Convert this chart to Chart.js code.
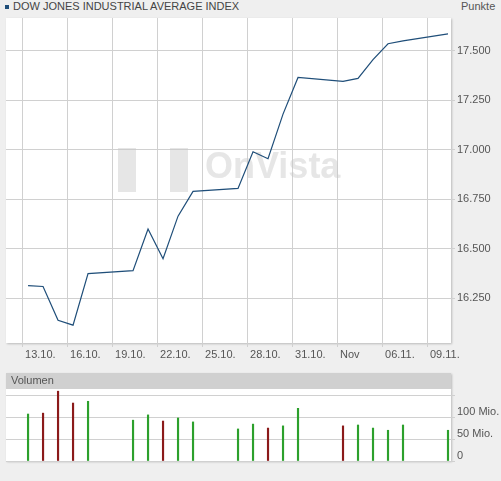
<!DOCTYPE html>
<html><head><meta charset="utf-8">
<script src="https://cdn.jsdelivr.net/npm/chart.js@4"></script>
<style>
body{margin:0;background:#efefef;width:501px;height:481px;position:relative;overflow:hidden;font-family:Arial,"Liberation Sans",sans-serif}
#c1{position:absolute;left:0;top:0}
#c2{position:absolute;left:0;top:360px}
#title{position:absolute;left:5px;top:0px;font-size:11px;color:#444}
#title span{display:inline-block;width:4px;height:4px;background:#1f4e79;margin-right:4px;vertical-align:middle}
#punkte{position:absolute;left:461px;top:0px;font-size:11px;color:#555}
#volh{position:absolute;left:6px;top:373px;width:445px;height:16px;background:#d0d0d0;font-size:11px;color:#555;box-shadow:1px 1px 2px #bbb}
#volh div{position:absolute;left:5px;top:1px}
#mainbox{position:absolute;left:6px;top:18px;width:445px;height:325px;box-shadow:1px 1px 2px #bbb}
#volbox{position:absolute;left:6px;top:389px;width:445px;height:72px;box-shadow:1px 1px 2px #bbb}
</style></head><body>
<div id="mainbox"></div><div id="volbox"></div>
<div id="title"><span></span>DOW JONES INDUSTRIAL AVERAGE INDEX</div>
<div id="punkte">Punkte</div>
<canvas id="c1" width="501" height="365"></canvas>
<div id="volh"><div>Volumen</div></div>
<canvas id="c2" width="501" height="110"></canvas>
<script>
// day offsets from 13.10.
const days = [0,1,2,3,4, 7,8,9,10,11, 14,15,16,17,18, 21,22,23,24,25, 28];
const closeVals = [16315,16310,16140,16115,16375, 16390,16600,16450,16665,16790, 16805,16990,16955,17180,17365, 17345,17360,17455,17535,17550, 17585];
const volumes = [107,109,159,132,136, 93,105,91,98,89, 73,84,75,80,120, 80,82,75,70,82, 70];
const volUp = [1,0,0,0,1, 1,1,0,1,1, 1,1,0,1,1, 0,1,1,1,1, 1];
const xTickLabels = ['13.10.','16.10.','19.10.','22.10.','25.10.','28.10.','31.10.','Nov','06.11.','09.11.'];
const yTicks = [16250,16500,16750,17000,17250,17500];
const volTicks = [0,50,100,150];
const volTickLabels = ['0','50 Mio.','100 Mio.',''];

const XMIN=-1.47, XMAX=28.2;
const white={id:'w',beforeDraw(c){const a=c.chartArea,x=c.ctx;x.save();x.fillStyle='#fff';x.fillRect(a.left,a.top,a.right-a.left,a.bottom-a.top);x.restore();}};
const wm={id:'wm',beforeDatasetsDraw(c){const x=c.ctx;x.save();x.fillStyle='rgba(200,200,200,0.45)';x.font='bold 36px Arial';x.fillText('OnVista',205,178);x.fillRect(118,148,18,44);x.fillRect(170,148,18,44);x.restore();}};
const lf={family:'Arial, Liberation Sans',size:11};
new Chart(document.getElementById('c1'),{
 type:'line',
 data:{datasets:[{data:days.map((d,i)=>({x:d,y:closeVals[i]})),borderColor:'#1f4e79',borderWidth:1.2,pointRadius:0,tension:0}]},
 options:{responsive:false,animation:false,events:[],
  layout:{padding:{left:6,top:18}},
  plugins:{legend:{display:false},tooltip:{enabled:false}},
  scales:{
   x:{type:'linear',min:XMIN,max:XMAX,
     afterBuildTicks(s){s.ticks=xTickLabels.map((l,i)=>({value:-0.4+3*i}));},
     afterFit(s){s.height=22;},
     grid:{color:'#d0d0d0',tickLength:4,drawTicks:true},border:{display:false},
     ticks:{align:'start',labelOffset:3,padding:1,color:'#555',font:lf,maxRotation:0,autoSkip:false,callback:(v,i)=>xTickLabels[i]}},
   y:{position:'right',min:16025,max:17665,
     afterBuildTicks(s){s.ticks=yTicks.map(v=>({value:v}));},
     afterFit(s){s.width=50;},
     grid:{color:'#d0d0d0',tickLength:4},border:{display:false},
     ticks:{padding:2,color:'#555',font:lf,callback:v=>v.toLocaleString('de-DE')}}
  }},
 plugins:[white,wm]});
new Chart(document.getElementById('c2'),{
 type:'bar',
 data:{datasets:[{data:days.map((d,i)=>({x:d,y:volumes[i]})),backgroundColor:volUp.map(u=>u?'#2ca02c':'#8b1a1a'),barThickness:1.5}]},
 options:{responsive:false,animation:false,events:[],
  layout:{padding:{left:6,top:29,bottom:9}},
  plugins:{legend:{display:false},tooltip:{enabled:false}},
  scales:{
   x:{type:'linear',min:XMIN,max:XMAX,offset:false,display:false},
   y:{position:'right',min:0,max:164,
     afterBuildTicks(s){s.ticks=volTicks.map(v=>({value:v}));},
     afterFit(s){s.width=50;},
     grid:{color:'#d0d0d0',tickLength:4},border:{display:false},
     ticks:{padding:2,color:'#555',font:lf,labelOffset:-5,callback:(v,i)=>volTickLabels[i]}}
  }},
 plugins:[white]});
</script></body></html>
